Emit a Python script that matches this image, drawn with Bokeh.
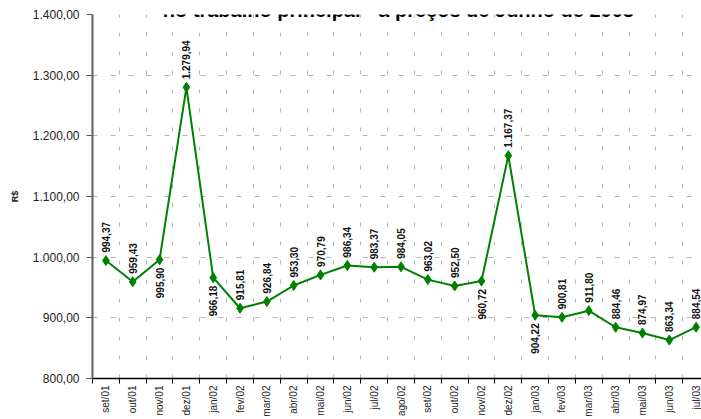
import math
from bokeh.plotting import figure
from bokeh.models import FixedTicker, Label, ColumnDataSource, Range1d
from bokeh.core.properties import value
from bokeh.embed import file_html
from bokeh.resources import INLINE

months = ["set/01", "out/01", "nov/01", "dez/01", "jan/02", "fev/02", "mar/02",
          "abr/02", "mai/02", "jun/02", "jul/02", "ago/02", "set/02", "out/02",
          "nov/02", "dez/02", "jan/03", "fev/03", "mar/03", "abr/03", "mai/03",
          "jun/03", "jul/03"]
values = [994.37, 959.43, 995.90, 1279.94, 966.18, 915.81, 926.84, 953.30,
          970.79, 986.34, 983.37, 984.05, 963.02, 952.50, 960.72, 1167.37,
          904.22, 900.81, 911.80, 884.46, 874.97, 863.34, 884.54]
labels_below = ["nov/01", "jan/02", "nov/02", "jan/03"]
y_ticks = [800, 900, 1000, 1100, 1200, 1300, 1400]
title_text = "no trabalho principal - a preços de Junho de 2003"
y_title = "R$"


def fmt(v):
    s = f"{v:,.2f}"
    return s.replace(",", "X").replace(".", ",").replace("X", ".")


xs = list(range(len(months)))
src = ColumnDataSource(dict(x=xs, y=values))
above = [i for i, m in enumerate(months) if m not in labels_below]
below = [i for i, m in enumerate(months) if m in labels_below]
src_above = ColumnDataSource(dict(x=[xs[i] for i in above], y=[values[i] for i in above],
                                  t=[fmt(values[i]) for i in above]))
src_below = ColumnDataSource(dict(x=[xs[i] for i in below], y=[values[i] for i in below],
                                  t=[fmt(values[i]) for i in below]))

FONT = "Liberation Sans"
Y0, Y1 = y_ticks[0], y_ticks[-1]

p = figure(width=701, height=419, output_backend="svg", toolbar_location=None,
           x_range=Range1d(-0.5, 22.2), y_range=Range1d(Y0, Y1),
           min_border_top=14, min_border_left=92, min_border_right=0,
           min_border_bottom=36)
p.outline_line_color = None
p.background_fill_color = "white"
p.border_fill_color = "white"

# grid
bounds = [i + 0.5 for i in range(-1, len(months))]
p.xgrid.ticker = FixedTicker(ticks=bounds)
p.xgrid.grid_line_color = "#b4b4b4"
p.xgrid.grid_line_dash = "4 15"
p.xgrid.grid_line_width = 1
p.ygrid.ticker = FixedTicker(ticks=y_ticks)
p.ygrid.grid_line_color = "#b4b4b4"
p.ygrid.grid_line_dash = "5 13"
p.ygrid.grid_line_width = 1

# x axis: labels at category centres, tick marks at category boundaries
xa = p.xaxis[0]
xa.ticker = FixedTicker(ticks=xs, minor_ticks=bounds)
xa.major_label_overrides = {i: m for i, m in enumerate(months)}
xa.major_label_orientation = math.pi / 2
xa.major_label_text_font = FONT
xa.major_label_text_font_size = "10px"
xa.major_label_text_color = "#222222"
xa.major_label_standoff = 2
xa.major_tick_line_color = None
xa.major_tick_in = 0
xa.major_tick_out = 0
xa.minor_tick_in = 0
xa.minor_tick_out = 5
xa.minor_tick_line_color = "black"
xa.axis_line_color = "black"
xa.axis_line_width = 1.5

# y axis
ya = p.yaxis[0]
ya.ticker = FixedTicker(ticks=y_ticks)
ya.major_label_overrides = {t: fmt(t) for t in y_ticks}
ya.minor_tick_line_color = None
ya.major_tick_in = 0
ya.major_tick_out = 6
ya.major_tick_line_color = "#555555"
ya.axis_line_color = "#606060"
ya.axis_line_width = 2
ya.major_label_text_font = FONT
ya.major_label_text_font_size = "12px"
ya.major_label_text_color = "#222222"
ya.major_label_standoff = 7
ya.axis_label = y_title
ya.axis_label_text_font = FONT
ya.axis_label_text_font_size = "9px"
ya.axis_label_text_font_style = "bold"
ya.axis_label_text_color = "#222222"
ya.axis_label_standoff = 10

# series
p.line("x", "y", source=src, line_color="#008000", line_width=2)
p.scatter("x", "y", source=src, marker="diamond", size=10, fill_color="#008000",
          line_color="#008000")

p.text("x", "y", text="t", source=src_above, angle=math.pi / 2, text_align="left",
       text_baseline="middle", y_offset=-8, text_font=value(FONT),
       text_font_size="10px", text_font_style="bold", text_color="#111111")
p.text("x", "y", text="t", source=src_below, angle=math.pi / 2, text_align="right",
       text_baseline="middle", y_offset=8, text_font=value(FONT),
       text_font_size="10px", text_font_style="bold", text_color="#111111")

title = Label(x=10.9, y=1407, text=title_text, text_align="center",
              text_baseline="alphabetic", text_font=FONT, text_font_size="20px",
              text_font_style="bold", text_color="black")
p.add_layout(title)

open("out.html", "w").write(file_html(p, INLINE))
